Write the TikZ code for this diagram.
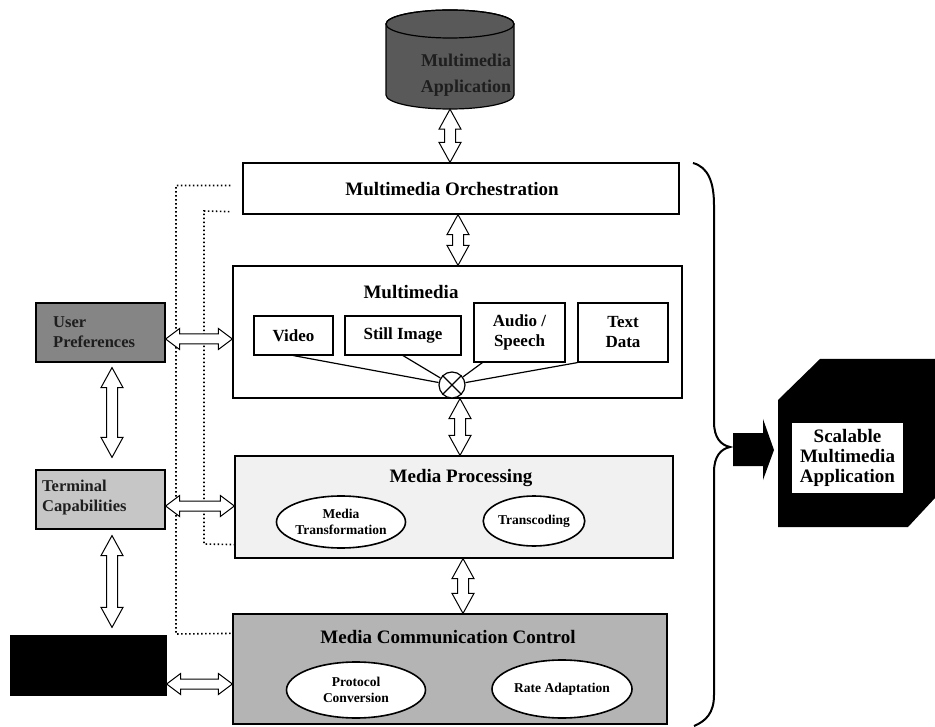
\documentclass[tikz,border=0pt]{standalone}
\usepackage{fontspec}
\setmainfont{Liberation Serif}
\usetikzlibrary{calc,shapes.geometric}
\definecolor{cylgray}{HTML}{595959}
\definecolor{upgray}{HTML}{858585}
\definecolor{termgray}{HTML}{C6C6C6}
\definecolor{mpgray}{HTML}{F1F1F1}
\definecolor{mccgray}{HTML}{B4B4B4}
\definecolor{darktext}{HTML}{1E1E1E}
\begin{document}
\begin{tikzpicture}[x=1pt,y=-1pt,
  box/.style={draw, line width=1.2pt, inner sep=0pt, align=center},
  title/.style={font=\bfseries\fontsize{19}{21}\selectfont, inner sep=0pt, align=center},
  sub/.style={box, font=\bfseries\fontsize{17}{20}\selectfont},
  ell/.style={draw, ellipse, fill=white, line width=1.6pt, inner sep=0pt, align=center, font=\bfseries\fontsize{13.5}{16}\selectfont},
  side/.style={draw, line width=1.2pt, inner sep=0pt, align=left, font=\bfseries\fontsize{16.5}{20}\selectfont},
  dotline/.style={line width=1.6pt, dash pattern=on 1.6pt off 2.4pt},
  dblarrow/.style n args={3}{fill=white, draw=black, line width=1pt, line join=miter, to path={
    -- ($(\tikztostart)!#3!(\tikztotarget)!#1!90:(\tikztotarget)$)
    -- ($(\tikztostart)!#3!(\tikztotarget)!#2!90:(\tikztotarget)$)
    -- ($(\tikztotarget)!#3!(\tikztostart)!#2!-90:(\tikztostart)$)
    -- ($(\tikztotarget)!#3!(\tikztostart)!#1!-90:(\tikztostart)$)
    -- (\tikztotarget)
    -- ($(\tikztotarget)!#3!(\tikztostart)!#1!90:(\tikztostart)$)
    -- ($(\tikztotarget)!#3!(\tikztostart)!#2!90:(\tikztostart)$)
    -- ($(\tikztostart)!#3!(\tikztotarget)!#2!-90:(\tikztotarget)$)
    -- ($(\tikztostart)!#3!(\tikztotarget)!#1!-90:(\tikztotarget)$)
    -- cycle}},
  varrow/.style={dblarrow={11pt}{5.5pt}{20pt}},
  harrow/.style={dblarrow={10.5pt}{5pt}{14pt}}
]
\useasboundingbox (0,0) rectangle (935,727);

% ---- cylinder: Multimedia Application
\draw[line width=1.2pt, fill=cylgray] (386,24) -- (386,95)
  arc[start angle=180, end angle=360, x radius=64pt, y radius=14pt]
  -- (514,24) arc[start angle=0, end angle=180, x radius=64pt, y radius=14pt] -- cycle;
\draw[line width=1.2pt] (450,24) ellipse[x radius=64pt, y radius=14pt];
\node[minimum width=128pt, minimum height=100pt, inner sep=0pt] (app) at (450,59) {};
\node[title, text=darktext, font=\bfseries\fontsize{18}{26}\selectfont] (appt) at (466,75) {Multimedia\\Application};

% ---- main column
\node[box, minimum width=436pt, minimum height=51pt] (orch) at (461,188.5) {};
\node[title] (orcht) at (452,189) {Multimedia Orchestration};

\node[box, minimum width=449pt, minimum height=132pt] (mm) at (457.5,332) {};
\node[title] (mmt) at (411,292) {Multimedia};
\node[sub, minimum width=79pt, minimum height=39pt] (video) at (293.5,335.5) {Video};
\node[sub, minimum width=116pt, minimum height=39pt] (still) at (403,335.5) {Still Image};
\node[sub, minimum width=91pt, minimum height=59pt] (audio) at (519.5,332.5) {Audio /\\Speech};
\node[sub, minimum width=90pt, minimum height=59pt] (textd) at (623,332.5) {Text\\Data};
\node[draw, circle, line width=1.2pt, minimum size=26pt, inner sep=0pt, fill=white] (cx) at (452,385) {};
\draw[line width=1.2pt] (cx.north west) -- (cx.south east) (cx.north east) -- (cx.south west);
\draw[line width=1.2pt] (video.south) -- (cx);
\draw[line width=1.2pt] (still.south) -- (cx);
\draw[line width=1.2pt] ($(audio.south west)+(9,0)$) -- (cx);
\draw[line width=1.2pt] (textd.south west) -- (cx);

\node[box, fill=mpgray, minimum width=438pt, minimum height=102pt] (mp) at (454,507) {};
\node[title] (mpt) at (461,478) {Media Processing};
\node[ell, minimum width=104pt, minimum height=52pt] (mtr) at (341,522) {Media\\Transformation};
\node[ell, minimum width=92pt, minimum height=50pt] (trc) at (534,521) {Transcoding};

\node[box, fill=mccgray, minimum width=434pt, minimum height=110pt] (mcc) at (450,669) {};
\node[title] (mcct) at (448,637) {Media Communication Control};
\node[ell, minimum width=139pt, minimum height=56pt] (pc) at (356,690) {Protocol\\Conversion};
\node[ell, minimum width=140pt, minimum height=58pt] (ra) at (562,689) {Rate Adaptation};

% ---- left column
\node[side, fill=upgray, minimum width=129pt, minimum height=59pt] (up) at (100.5,332.5) {};
\node[anchor=west, align=left, inner sep=0pt, text=darktext, font=\bfseries\fontsize{16.5}{20}\selectfont] (upt) at (53,332.5) {User\\Preferences};
\node[side, fill=termgray, minimum width=129pt, minimum height=59pt] (term) at (100.5,499.5) {};
\node[anchor=west, align=left, inner sep=0pt, text=darktext, font=\bfseries\fontsize{16.5}{20}\selectfont] (termt) at (42,498) {Terminal\\Capabilities};
\node[draw, fill=black, line width=1.2pt, minimum width=155pt, minimum height=59pt, inner sep=0pt] (blk) at (88.5,665.5) {};

% ---- dotted links
\draw[dotline] ($(orch.west)+(-12,-3)$) -- (176,185.5) -- (176,634) -- ($(mcc.north west)+(0,20)$);
\draw[dotline] ($(orch.south west)+(-13,-3)$) -- (204,211) -- (204,544) -- ($(mp.south west)+(0,-14)$);

% ---- hollow double arrows
\draw[varrow] (app.south) to (app.south |- orch.north);
\coordinate (a2) at ($(orch.south)+(-3,0)$);
\draw[varrow] (a2) to (a2 |- mm.north);
\coordinate (a3) at ($(mm.south)+(2.5,0)$);
\draw[varrow] (a3) to (a3 |- mp.north);
\coordinate (a4) at ($(mp.south)+(9,0)$);
\draw[varrow] (a4) to (a4 |- mcc.north);

\coordinate (h1) at ($(up.east)+(0,6.5)$);
\draw[harrow] (h1) to (h1 -| mm.west);
\coordinate (h2) at ($(term.east)+(0,6.5)$);
\draw[harrow] (h2) to (h2 -| mp.west);
\coordinate (h3) at ($(blk.east)+(0,18.5)$);
\draw[harrow] (h3) to (h3 -| mcc.west);

\coordinate (v1) at ($(up.south)+(11.5,5)$);
\draw[varrow] (v1) to ($(v1 |- term.north)+(0,-12)$);
\coordinate (v2) at ($(term.south)+(11.5,6)$);
\draw[varrow] (v2) to ($(v2 |- blk.north)+(0,-8)$);

% ---- brace
\draw[line width=2pt] (693,163) .. controls (708,167) and (714,182) .. (714,205)
  -- (714,422) .. controls (714,438) and (721,445) .. (730,447)
  .. controls (721,449) and (714,456) .. (714,472)
  -- (714,695) .. controls (714,713) and (706,721) .. (694,726);
\coordinate (btip) at (730,447);

% ---- black arrow to result
\fill ($(btip)+(3,-14)$) -- ($(btip)+(33,-14)$) -- ($(btip)+(33,-28)$) -- ($(btip)+(44,3)$)
  -- ($(btip)+(33,33)$) -- ($(btip)+(33,19)$) -- ($(btip)+(3,19)$) -- cycle;

% ---- Scalable Multimedia Application
\fill (820,359) -- (935,359) -- (935,498) -- (908,527) -- (778,527) -- (778,400) -- cycle;
\node[fill=white, minimum width=111pt, minimum height=70pt, inner sep=0pt, align=center,
  font=\bfseries\fontsize{19}{20}\selectfont] (sma) at (847.5,458) {Scalable\\Multimedia\\Application};
\end{tikzpicture}
\end{document}
